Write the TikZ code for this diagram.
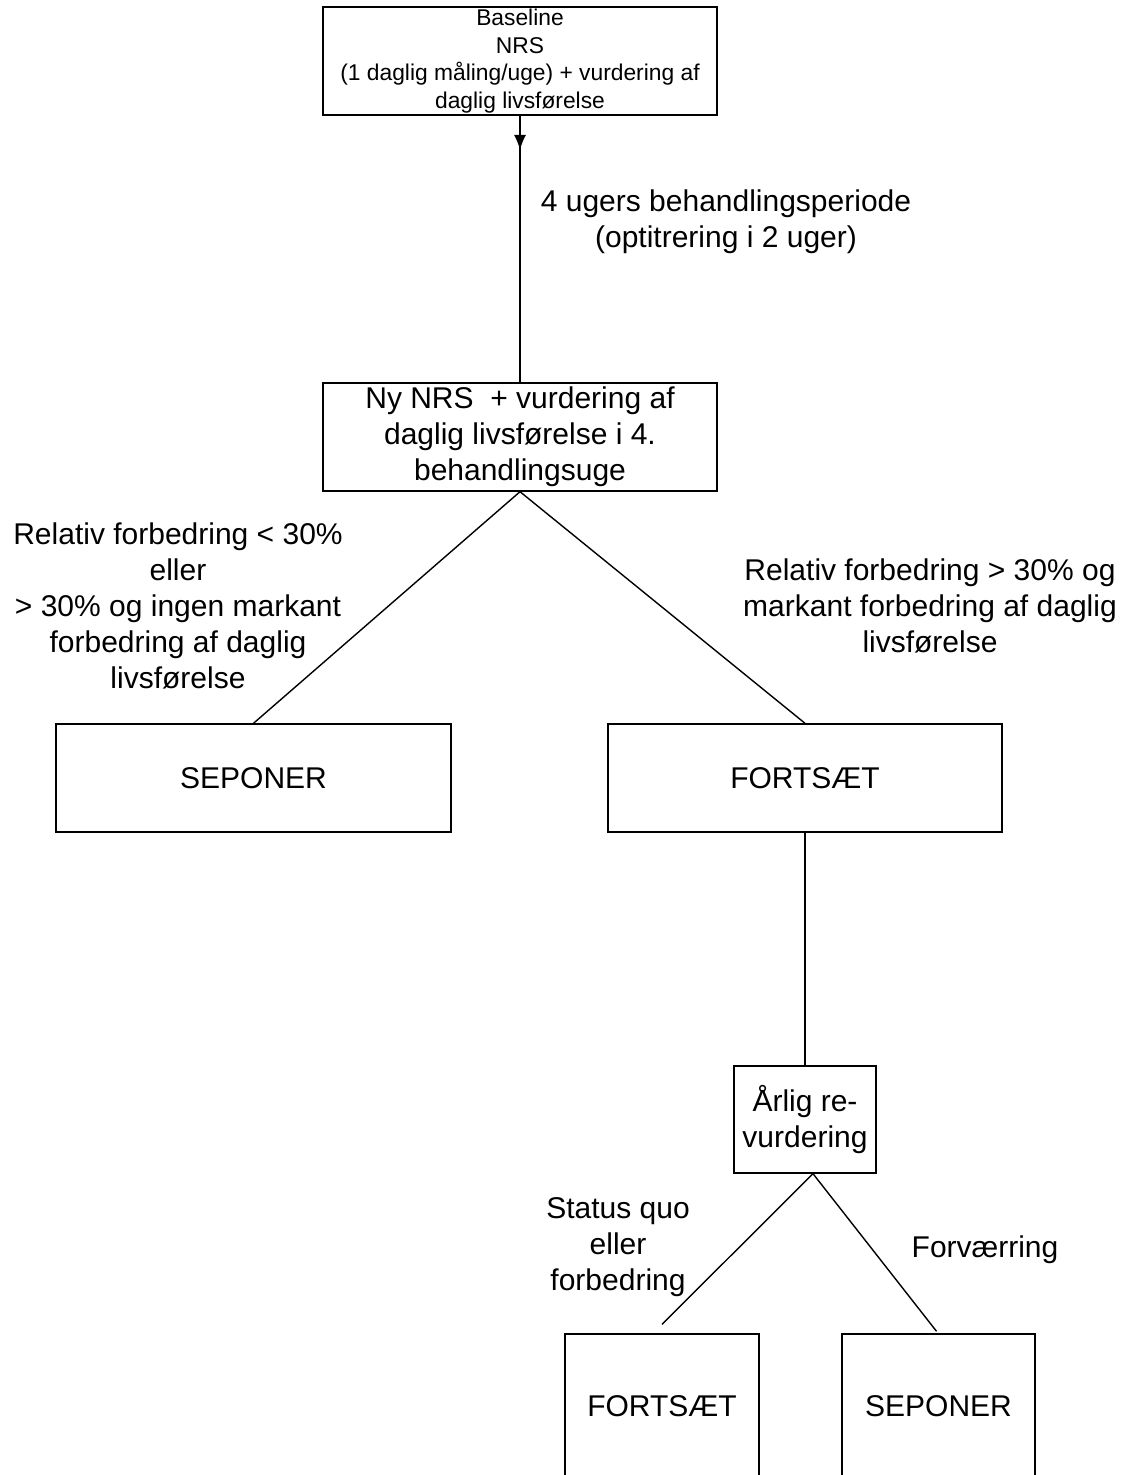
\documentclass[tikz,border=0pt]{standalone}
\usepackage{fontspec}
\setmainfont{Liberation Sans}
\usepackage{tikz}
\usetikzlibrary{shapes,arrows.meta}
\newcommand{\bigtxt}{\fontsize{15}{18}\selectfont}
\newcommand{\smalltxt}{\fontsize{11.4}{13.8}\selectfont}
\tikzstyle{block} = [rectangle, draw, line width=0.7pt, text centered, align=center, font=\bigtxt]
\tikzstyle{lbl} = [align=center, font=\bigtxt]
\tikzstyle{line} = [draw, line width=0.7pt, -{Latex[length=7.5pt,width=6pt]}]
\tikzstyle{conn} = [draw, line width=0.7pt]

\begin{document}
\begin{tikzpicture}[x=0.5pt,y=-0.5pt]
\useasboundingbox (0,0) rectangle (1126,1475);

\node [block, font=\smalltxt, inner sep=0.5pt, minimum width=197pt, minimum height=54pt] (base) at (520,61) {Baseline\\NRS\\(1 daglig måling/uge) + vurdering af\\daglig livsførelse};
\node [block, inner sep=2pt, minimum width=197pt, minimum height=54pt] (nrs) at (520,437) {Ny NRS\ \ + vurdering af\\daglig livsførelse i 4.\\behandlingsuge};
\coordinate (tip) at (520,150);
\path [conn] (base) -- (nrs);
\path [line] (base) -- (tip);
\node [lbl] (period) at (726,222) {4 ugers behandlingsperiode\\(optitrering i 2 uger)};

\node [block, minimum width=197.5pt, minimum height=54pt] (sep1) at (253.5,778) {SEPONER};
\node [block, minimum width=197pt, minimum height=54pt] (fort1) at (805,778) {FORTSÆT};
\path [conn] (nrs.south) -- (sep1.north);
\path [conn] (nrs.south) -- (fort1.north);
\node [lbl] (worse1) at (178,606) {Relativ forbedring < 30\%\\eller\\> 30\% og ingen markant\\forbedring af daglig\\livsførelse};
\node [lbl] (better1) at (930,606) {Relativ forbedring > 30\% og\\markant forbedring af daglig\\livsførelse};

\node [block, minimum width=71pt, minimum height=53.5pt] (aarlig) at (805,1119.5) {Årlig re-\\vurdering};
\path [conn] (fort1) -- (aarlig);

\node [block, minimum width=97pt, minimum height=72pt] (fort2) at (662,1406) {FORTSÆT};
\node [block, minimum width=96.5pt, minimum height=72pt] (sep2) at (938.5,1406) {SEPONER};
\path [conn] ([xshift=4pt]aarlig.south) -- ([yshift=4.5pt]fort2.north);
\path [conn] ([xshift=4pt]aarlig.south) -- ([yshift=1pt,xshift=-1pt]sep2.north);
\node [lbl] (status) at (618,1247) {Status quo\\eller\\forbedring};
\node [lbl] (forv) at (985,1250) {Forværring};
\end{tikzpicture}
\end{document}
